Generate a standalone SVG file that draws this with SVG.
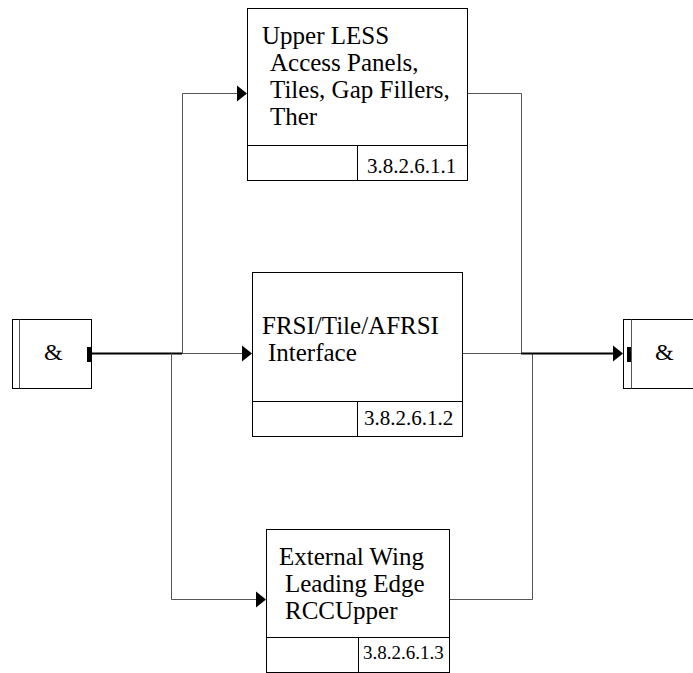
<svg xmlns="http://www.w3.org/2000/svg" width="693" height="673" viewBox="0 0 693 673">
<style>
.box{fill:#fff;stroke:#000;stroke-width:1}
.in{fill:none;stroke:#555;stroke-width:1}
.t{font-family:"Liberation Serif","Times New Roman",serif;font-size:25px;fill:#000}
.n{font-family:"Liberation Serif","Times New Roman",serif;font-size:21px;fill:#000}
.c{fill:none;stroke:#555;stroke-width:1}
.k{fill:none;stroke:#000;stroke-width:2}
.ah{fill:#000}
</style>
<rect width="693" height="673" fill="#fff"/>
<g id="connectors">
<polyline class="k" points="92,353.5 182,353.5"/>
<polyline class="c" points="182,353.5 242,353.5"/>
<polyline class="c" points="182.5,353.5 182.5,93.5 237,93.5"/>
<polyline class="c" points="171.5,353.5 171.5,599.5 256,599.5"/>
<polyline class="c" points="467,93.5 521.5,93.5 521.5,353.5"/>
<polyline class="c" points="462,353.5 521,353.5"/>
<polyline class="c" points="449,599.5 532.5,599.5 532.5,353.5"/>
<polyline class="k" points="521,353.5 614,353.5"/>
<polygon class="ah" points="237,85.5 247,93.5 237,101.5"/>
<polygon class="ah" points="242,345.5 252,353.5 242,361.5"/>
<polygon class="ah" points="256,591.5 266,599.5 256,607.5"/>
<polygon class="ah" points="613,345.5 623,353.5 613,361.5"/>
</g>
<g id="and-left">
<rect class="box" x="12.5" y="319.5" width="79" height="69"/>
<line class="in" x1="19.5" y1="319.5" x2="19.5" y2="388.5"/>
<rect x="87" y="347" width="4" height="15" fill="#000"/>
<text class="t" x="44" y="360" style="font-size:24px">&amp;</text>
</g>
<g id="and-right">
<rect class="box" x="623.5" y="319.5" width="80" height="69"/>
<line class="in" x1="631.5" y1="319.5" x2="631.5" y2="388.5"/>
<rect x="627" y="347" width="4" height="15" fill="#000"/>
<text class="t" x="655" y="360" style="font-size:24px">&amp;</text>
</g>
<g id="node-1">
<rect class="box" x="247.5" y="8.5" width="220" height="172"/>
<line class="box" x1="247.5" y1="145.5" x2="467.5" y2="145.5"/>
<line class="box" x1="357.5" y1="145.5" x2="357.5" y2="180.5"/>
<text class="t" x="262" y="44">Upper LESS</text>
<text class="t" x="270" y="71">Access Panels,</text>
<text class="t" x="270" y="98">Tiles, Gap Fillers,</text>
<text class="t" x="270" y="125">Ther</text>
<text class="n" x="367" y="173">3.8.2.6.1.1</text>
</g>
<g id="node-2">
<rect class="box" x="252.5" y="272.5" width="210" height="164"/>
<line class="box" x1="252.5" y1="401.5" x2="462.5" y2="401.5"/>
<line class="box" x1="357.5" y1="401.5" x2="357.5" y2="436.5"/>
<text class="t" x="262" y="334">FRSI/Tile/AFRSI</text>
<text class="t" x="268" y="361">Interface</text>
<text class="n" x="364" y="425">3.8.2.6.1.2</text>
</g>
<g id="node-3">
<rect class="box" x="266.5" y="529.5" width="183" height="143"/>
<line class="box" x1="266.5" y1="637.5" x2="449.5" y2="637.5"/>
<line class="box" x1="358.5" y1="637.5" x2="358.5" y2="672.5"/>
<text class="t" x="279" y="565">External Wing</text>
<text class="t" x="285" y="592">Leading Edge</text>
<text class="t" x="285" y="619">RCCUpper</text>
<text class="n" x="363" y="659" style="font-size:19px">3.8.2.6.1.3</text>
</g>
</svg>
